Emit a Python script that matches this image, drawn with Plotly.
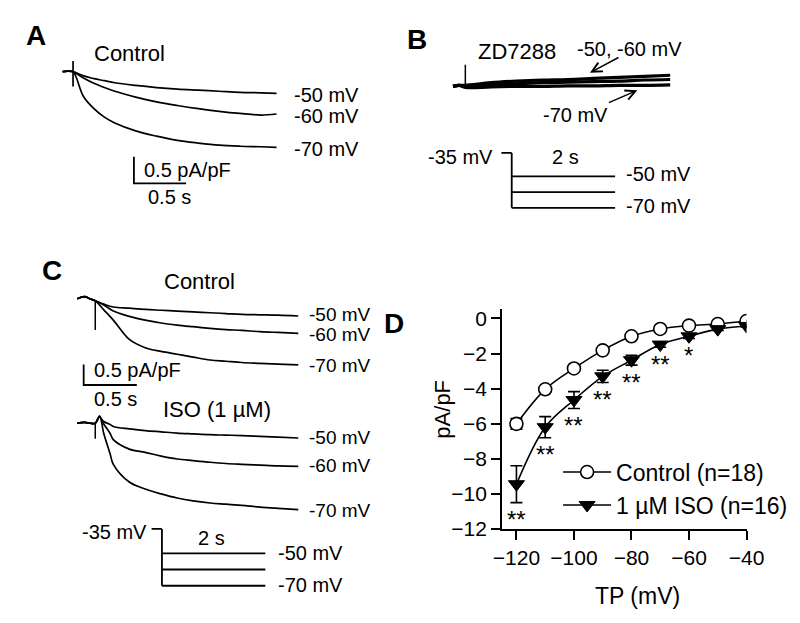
import plotly.graph_objects as go

W, H = 800, 623

# ---------------- DATA ----------------
# Panel A: Ih traces under control (time in s, current density in pA/pF)
A_t = [-0.1, -0.05, 0, 0.1, 0.2, 0.3, 0.4, 0.6, 0.8, 1.0, 1.2, 1.4, 1.6, 1.8, 1.95]
A_50 = [0, 0.01, 0, -0.08, -0.13, -0.17, -0.21, -0.26, -0.30, -0.33, -0.35, -0.37, -0.39, -0.40, -0.41]
A_60 = [0, 0.01, 0, -0.12, -0.22, -0.30, -0.37, -0.48, -0.57, -0.64, -0.70, -0.75, -0.79, -0.82, -0.80]
A_70 = [0, 0.01, 0, -0.47, -0.70, -0.86, -0.97, -1.12, -1.22, -1.30, -1.35, -1.39, -1.41, -1.42, -1.43]
A_spike = [0.2, -0.28]

# Panel B: traces with ZD7288
B_t = [-0.12, -0.06, 0, 0.25, 0.5, 0.75, 1.0, 1.25, 1.5, 1.75, 2.0]
B_50 = [0, 0.02, 0.02, 0.07, 0.10, 0.12, 0.13, 0.15, 0.17, 0.19, 0.21]
B_60 = [0, 0.02, 0.0, 0.03, 0.05, 0.07, 0.08, 0.09, 0.10, 0.12, 0.13]
B_70 = [0, 0.02, -0.02, -0.01, 0.0, 0.0, 0.01, 0.01, 0.02, 0.02, 0.03]
B_spike = [0.41, 0]

# Voltage protocol (mV)
PROT_PRE_T = [-0.2, 0]
PROT_HOLD = -35
PROT_STEPS = [-50, -60, -70]
PROT_DUR = 2.0

# Panel C: control and ISO traces
C_t = [-0.17, -0.1, -0.05, 0, 0.08, 0.17, 0.32, 0.47, 0.62, 0.77, 0.92, 1.08, 1.23, 1.38, 1.55, 1.72, 1.91]
C_ctl_50 = [0.05, 0.1, 0.05, 0, -0.08, -0.15, -0.18, -0.21, -0.23, -0.25, -0.27, -0.29, -0.31, -0.33, -0.34, -0.35, -0.37]
C_ctl_60 = [0.05, 0.1, 0.05, 0, -0.10, -0.25, -0.38, -0.47, -0.54, -0.59, -0.63, -0.67, -0.70, -0.72, -0.75, -0.77, -0.79]
C_ctl_70 = [0.05, 0.1, 0.05, 0, -0.22, -0.47, -0.94, -1.14, -1.23, -1.30, -1.37, -1.44, -1.47, -1.50, -1.52, -1.54, -1.56]
C_ctl_spike = [0, -0.71]

ISO_t = [-0.17, -0.1, -0.05, 0, 0.04, 0.08, 0.14, 0.17, 0.32, 0.47, 0.62, 0.77, 0.92, 1.08, 1.23, 1.38, 1.55, 1.72, 1.91]
ISO_50 = [0, 0.02, 0, 0, 0.15, 0.04, -0.03, -0.08, -0.14, -0.18, -0.21, -0.24, -0.26, -0.28, -0.29, -0.30, -0.32, -0.34, -0.36]
ISO_60 = [0, 0.02, 0, 0, 0.15, -0.02, -0.25, -0.40, -0.63, -0.71, -0.80, -0.87, -0.91, -0.95, -0.98, -1.00, -1.02, -1.04, -1.05]
ISO_70 = [0, 0.02, 0, 0, 0.18, -0.25, -0.75, -1.00, -1.43, -1.60, -1.72, -1.82, -1.89, -1.94, -1.97, -2.00, -2.04, -2.07, -2.10]
ISO_spike = [0, -0.38]

SCALE_I = 0.5  # pA/pF
SCALE_T = 0.5  # s

# Panel D: I-V relation
TP = [-120, -110, -100, -90, -80, -70, -60, -50, -40]
ctl_mean = [-6.01, -4.04, -2.85, -1.82, -1.02, -0.60, -0.41, -0.32, -0.15]
ctl_err = [0.30, 0.15, 0.15, 0.12, 0.10, 0.08, 0.06, 0.05, 0.05]
iso_mean = [-9.45, -6.20, -4.65, -3.30, -2.38, -1.49, -1.02, -0.61, -0.43]
iso_err = [1.05, 0.60, 0.48, 0.35, 0.28, 0.15, 0.12, 0.08, 0.06]
sig = ["**", "**", "**", "**", "**", "**", "*", "", ""]

# ---------------- LAYOUT HELPERS ----------------
FONT = "Arial, Liberation Sans, sans-serif"


def xax(px0, px1, px_o, v_o, ppu):
    return [px0 / W, px1 / W], [v_o + (px0 - px_o) / ppu, v_o + (px1 - px_o) / ppu]


def yax(py0, py1, py_o, v_o, ppu):
    return [1 - py1 / H, 1 - py0 / H], [v_o - (py1 - py_o) / ppu, v_o + (py_o - py0) / ppu]


def P(x, y):
    return x / W, 1 - y / H


fig = go.Figure()
layout = dict(width=W, height=H, margin=dict(l=0, r=0, t=0, b=0),
              paper_bgcolor="white", plot_bgcolor="rgba(0,0,0,0)",
              font=dict(family=FONT, color="black"), showlegend=True)

hidden = dict(visible=False, fixedrange=True)
axes_geom = {
    1: (xax(40, 290, 58, 0, 108), yax(40, 200, 63, 0, 54)),            # A traces
    2: (xax(440, 700, 464, 0, 106), yax(40, 110, 78, 0, 54)),          # B traces
    3: (xax(490, 640, 512, 0, 53.5), yax(140, 210, 146, -35, 1.6)),    # B protocol
    4: (xax(50, 300, 81, 0, 110), yax(280, 400, 297, 0, 42)),          # C control
    5: (xax(50, 300, 81, 0, 110), yax(402, 525, 422, 0, 42)),          # C ISO
    6: (xax(125, 270, 150, 0, 53.5), yax(524, 596, 530, -35, 1.657)),  # C protocol
}
for k, ((xd, xr), (yd, yr)) in axes_geom.items():
    sx = "" if k == 1 else str(k)
    layout["xaxis" + sx] = dict(domain=xd, range=xr, anchor="y" + sx, **hidden)
    layout["yaxis" + sx] = dict(domain=yd, range=yr, anchor="x" + sx, **hidden)

# Panel D axes (visible)
xd, xr = xax(502, 755, 517, -120, 238 / 80)
yd, yr = yax(305, 530, 315, 0, 215 / 12)
common = dict(showline=True, linewidth=2, linecolor="black", ticks="outside", ticklen=9, tickwidth=2,
              tickcolor="black", showgrid=False, zeroline=False, fixedrange=True,
              tickfont=dict(size=21, family=FONT))
layout["xaxis7"] = dict(domain=xd, range=[-125, xr[1]], anchor="y7",
                        tickvals=[-120, -100, -80, -60, -40], **common)
layout["yaxis7"] = dict(domain=yd, range=[-12, yr[1]], anchor="x7",
                        tickvals=[0, -2, -4, -6, -8, -10, -12], **common)


def tr(x, y, ax, width=1.7, shape="spline"):
    sx = "" if ax == 1 else str(ax)
    fig.add_trace(go.Scatter(x=x, y=y, mode="lines", line=dict(color="black", width=width, shape=shape),
                             xaxis="x" + sx, yaxis="y" + sx, showlegend=False, hoverinfo="skip"))


# Panel A
for ys in (A_50, A_60, A_70):
    tr(A_t, ys, 1)
tr([0, 0], A_spike, 1, shape="linear")
ta0 = (121 - 58) / 108
ia0 = -(177 - 63) / 54
tr([ta0, ta0, ta0 + SCALE_T], [ia0 + SCALE_I, ia0, ia0], 1, width=1.8, shape="linear")

# Panel B
for ys in (B_50, B_60, B_70):
    tr(B_t, ys, 2, width=3.2)
tr([0, 0], B_spike, 2, width=1.5, shape="linear")


def protocol(ax):
    tr(PROT_PRE_T, [PROT_HOLD, PROT_HOLD], ax, width=1.8, shape="linear")
    tr([0, 0], [PROT_HOLD, min(PROT_STEPS)], ax, width=1.8, shape="linear")
    for v in PROT_STEPS:
        tr([0, PROT_DUR], [v, v], ax, width=1.8, shape="linear")


protocol(3)

# Panel C
for ys in (C_ctl_50, C_ctl_60, C_ctl_70):
    tr(C_t, ys, 4)
tr([0, 0], C_ctl_spike, 4, width=1.5, shape="linear")
tc0 = (69 - 81) / 110
ic0 = -(383 - 297) / 42
tr([tc0, tc0, tc0 + SCALE_T], [ic0 + SCALE_I, ic0, ic0], 4, width=1.8, shape="linear")
for ys in (ISO_50, ISO_60, ISO_70):
    tr(ISO_t, ys, 5)
tr([0, 0], ISO_spike, 5, width=1.5, shape="linear")
protocol(6)

# Panel D
fig.add_trace(go.Scatter(
    x=TP, y=ctl_mean, mode="lines+markers", name="Control (n=18)",
    line=dict(color="black", width=1.6, shape="spline"),
    marker=dict(symbol="circle", size=13, color="white", line=dict(color="black", width=1.6)),
    error_y=dict(type="data", array=ctl_err, color="black", thickness=1.6, width=6),
    xaxis="x7", yaxis="y7", hoverinfo="skip"))
fig.add_trace(go.Scatter(
    x=TP, y=iso_mean, mode="lines+markers", name="1 \u00b5M ISO (n=16)",
    line=dict(color="black", width=1.6, shape="spline"),
    marker=dict(symbol="triangle-down", size=14, color="black", line=dict(color="black", width=1)),
    error_y=dict(type="data", array=iso_err, color="black", thickness=1.6, width=6),
    xaxis="x7", yaxis="y7", hoverinfo="skip"))

layout["legend"] = dict(x=P(560, 0)[0], y=P(0, 450)[1], xanchor="left", yanchor="top",
                        font=dict(size=23, family=FONT), bgcolor="rgba(0,0,0,0)",
                        itemwidth=48, tracegroupgap=0, itemclick=False)

ann = []


def text(x, y, s, size=20, xanchor="left", bold=False, angle=0):
    px, py = P(x, y)
    ann.append(dict(x=px, y=py, xref="paper", yref="paper", text=("<b>%s</b>" % s) if bold else s,
                    showarrow=False, xanchor=xanchor, yanchor="middle", textangle=angle,
                    font=dict(size=size, family=FONT, color="black")))


# Panel letters
text(7, 26, "A", 28, bold=True)
text(402, 30, "B", 28, bold=True)
text(24, 266, "C", 28, bold=True)
text(378, 320, "D", 28, bold=True)

# Panel A text
text(78, 44, "Control", 22)
text(285, 86.5, "-50 mV")
text(285, 108.5, "-60 mV")
text(285, 141.5, "-70 mV")
text(129, 163, "0.5 pA/pF")
text(134, 191, "0.5 s")

# Panel B text
text(475, 42, "ZD7288", 22)
text(577, 40, "-50, -60 mV")
text(542, 107, "-70 mV")
text(495, 150, "-35 mV", xanchor="right")
text(552, 150, "2 s")
text(628, 168, "-50 mV")
text(628, 200, "-70 mV")
for (hx, hy, tx, ty) in [(593, 64, 623, 48), (642, 82, 612, 95)]:
    ax_, ay_ = P(hx, hy)
    ann.append(dict(x=ax_, y=ay_, xref="paper", yref="paper", ax=tx - hx, ay=ty - hy,
                    axref="pixel", ayref="pixel", text="", showarrow=True, arrowhead=5,
                    arrowsize=1.3, arrowwidth=1.5, arrowcolor="black"))

# Panel C text
text(189, 277, "Control", 22, xanchor="center")
text(300, 311, "-50 mV", 19)
text(300, 331, "-60 mV", 19)
text(300, 363, "-70 mV", 19)
text(78, 368, "0.5 pA/pF")
text(78, 397, "0.5 s")
text(207, 408, "ISO (1 \u00b5M)", 22, xanchor="center")
text(300, 437, "-50 mV", 19)
text(300, 465, "-60 mV", 19)
text(300, 511, "-70 mV", 19)
text(137, 533, "-35 mV", xanchor="right")
text(185, 539, "2 s")
text(268, 555, "-50 mV")
text(268, 587, "-70 mV")

# Panel D text
text(440, 408, "pA/pF", 22, xanchor="center", angle=-90)
text(642, 598, "TP (mV)", 23, xanchor="center")
for x, m, e, s in zip(TP, iso_mean, iso_err, sig):
    if s:
        ann.append(dict(x=x, y=m - e - 0.75, xref="x7", yref="y7", text=s, showarrow=False,
                        xanchor="center", yanchor="middle", yshift=-4,
                        font=dict(size=24, family=FONT, color="black")))

layout["annotations"] = ann
fig.update_layout(**layout)
fig.write_html("out.html")
